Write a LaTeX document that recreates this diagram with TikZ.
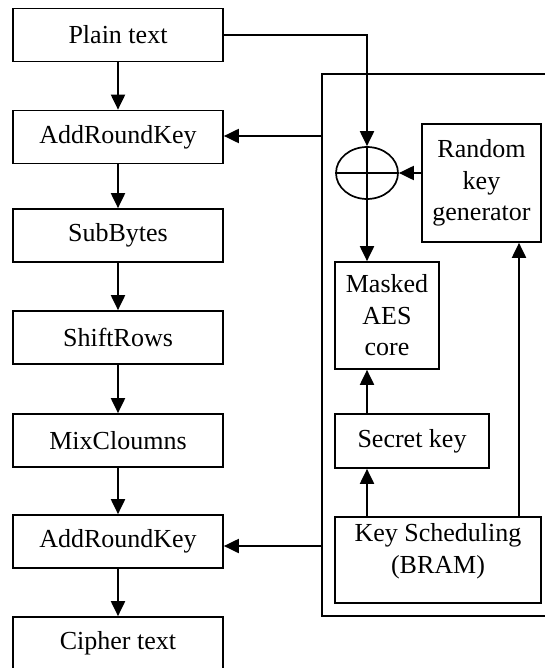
\documentclass[tikz,border=0pt]{standalone}
\usepackage{fontspec}
\setmainfont{Liberation Serif}
\usetikzlibrary{arrows.meta,shapes.geometric}
\tikzset{
  box/.style={draw, line width=1.7pt, rectangle, inner sep=0pt, align=center},
  leftbox/.style={box, minimum width=210pt, minimum height=53pt},
  xorshape/.style={draw, line width=1.7pt, ellipse, minimum width=62pt, minimum height=52pt, inner sep=0pt},
  arr/.style={line width=2pt, -{Triangle[length=15pt,width=14pt]}},
  frame/.style={line width=1.7pt},
}
\begin{document}
\begin{tikzpicture}[x=1pt,y=-1pt,font=\fontsize{26pt}{31.5pt}\selectfont]
\clip (0,0) rectangle (545,668);
\useasboundingbox (0,0) rectangle (545,668);
% left column
\node[leftbox] (plain) at (118,35) {Plain text};
\node[leftbox] (ark1) at (118,137) {AddRoundKey};
\node[leftbox] (sub) at (118,235.5) {SubBytes};
\node[leftbox] (shift) at (118,337.5) {ShiftRows};
\node[leftbox] (mix) at (118,440.5) {MixCloumns};
\node[leftbox] (ark2) at (118,541.5) {AddRoundKey};
\node[leftbox] (cipher) at (118,643.5) {Cipher text};
\draw[arr] (plain) -- (ark1);
\draw[arr] (ark1) -- (sub);
\draw[arr] (sub) -- (shift);
\draw[arr] (shift) -- (mix);
\draw[arr] (mix) -- (ark2);
\draw[arr] (ark2) -- (cipher);
% container
\draw[frame] (600,74) -- (322,74) -- (322,616) -- (600,616);
\coordinate (c1) at (322,136);
\coordinate (c2) at (322,546);
% right side
\node[xorshape] (xor) at (367,173) {};
\draw[line width=1.7pt] (xor.north) -- (xor.south) (xor.west) -- (xor.east);
\node[box, minimum width=119pt, minimum height=118pt] (rkg) at (481.5,183) {Random\\key\\generator};
\node[box, minimum width=104pt, minimum height=107pt] (masked) at (387,315.5) {Masked\\AES\\core};
\node[box, minimum width=154pt, minimum height=54pt] (secret) at (412,441) {Secret key};
\node[box, minimum width=206pt, minimum height=86pt] (ks) at (438,560) {};
\node[align=center, inner sep=0pt] (kstext) at (438,551) {Key Scheduling\\(BRAM)};
\coordinate (kline) at (519,0);
% connectors
\draw[arr] (plain.east) -| (xor.north);
\draw[arr] (rkg.west |- xor.east) -- (xor.east);
\draw[arr] (xor.south) -- (xor.south |- masked.north);
\draw[arr] (xor.south |- secret.north) -- (xor.south |- masked.south);
\draw[arr] (xor.south |- ks.north) -- (xor.south |- secret.south);
\draw[arr] (kline |- ks.north) -- (kline |- rkg.south);
\draw[arr] (c1) -- (c1 -| ark1.east);
\draw[arr] (c2) -- (c2 -| ark2.east);
\end{tikzpicture}
\end{document}
